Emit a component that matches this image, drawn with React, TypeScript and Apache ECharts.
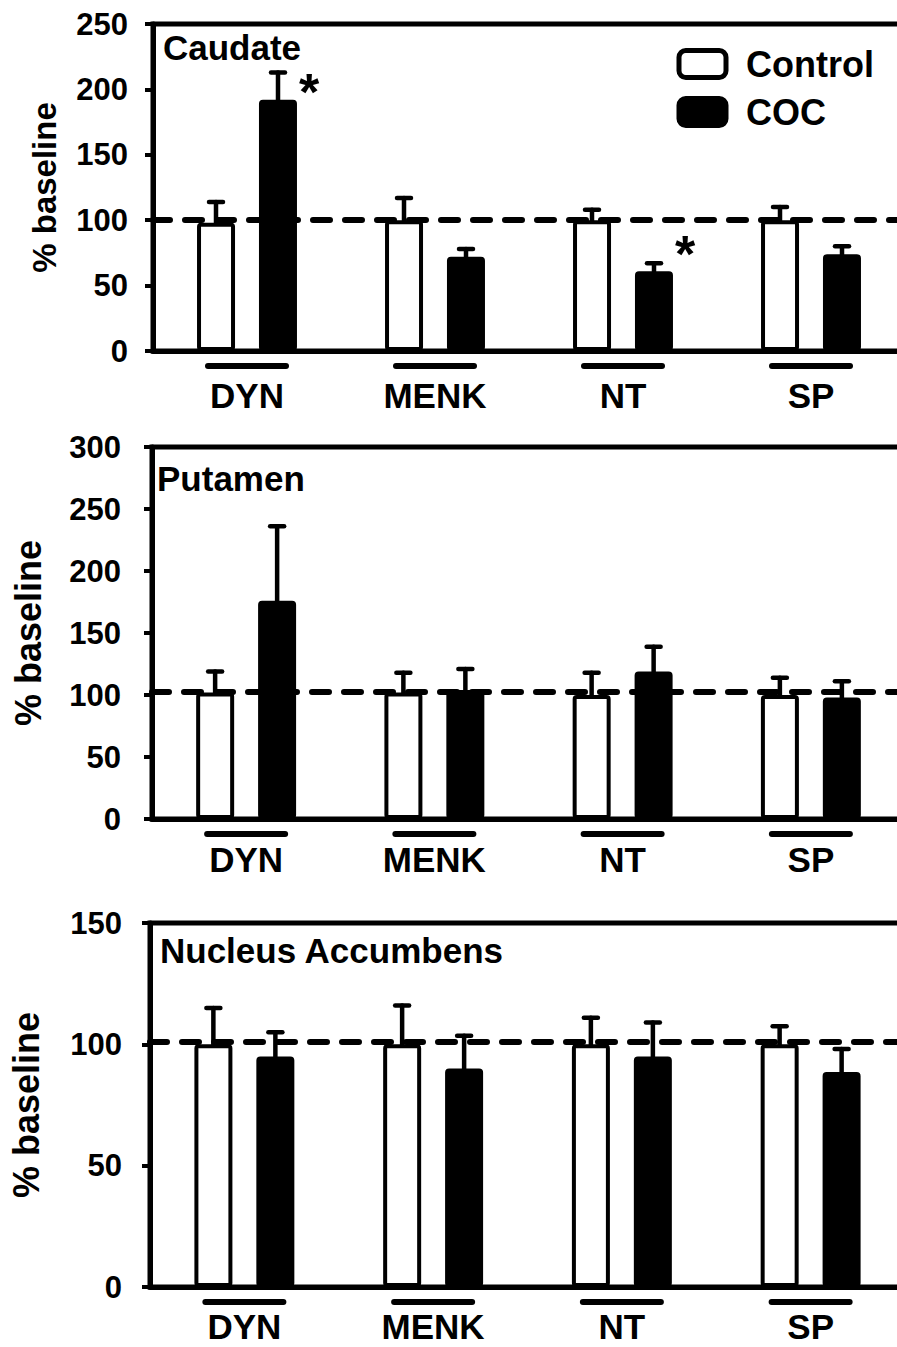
import React, { useEffect, useRef } from 'react';
import * as echarts from 'echarts';

const FONT = '"Liberation Sans", Arial, Helvetica, sans-serif';

// ---------- data ----------
const categories = ['DYN', 'MENK', 'NT', 'SP'];
const seriesNames = ['Control', 'COC'];

// Caudate
const caudateTicks = [0, 50, 100, 150, 200, 250];
const caudateBaseline = 100;
const caudateControl = [98, 100, 100, 100];
const caudateControlErr = [16, 17, 8, 10];
const caudateCOC = [192, 72, 61, 74];
const caudateCOCErr = [21, 6, 6, 6];
const caudateStarY = [198, null, 74, null];

// Putamen
const putamenTicks = [0, 50, 100, 150, 200, 250, 300];
const putamenBaseline = 103;
const putamenControl = [102, 102, 100, 100];
const putamenControlErr = [17, 16, 18, 14];
const putamenCOC = [176, 104, 119, 98];
const putamenCOCErr = [60, 17, 20, 13];
const putamenStarY = [null, null, null, null];

// Nucleus Accumbens
const accumbensTicks = [0, 50, 100, 150];
const accumbensBaseline = 101;
const accumbensControl = [100, 100, 100, 100];
const accumbensControlErr = [15, 16, 11, 7.5];
const accumbensCOC = [95, 90, 95, 88.6];
const accumbensCOCErr = [10, 13.5, 14, 9.5];
const accumbensStarY = [null, null, null, null];

const panels = [
  { title: 'Caudate', ticks: caudateTicks, baseline: caudateBaseline, control: caudateControl, controlErr: caudateControlErr, coc: caudateCOC, cocErr: caudateCOCErr, stars: caudateStarY },
  { title: 'Putamen', ticks: putamenTicks, baseline: putamenBaseline, control: putamenControl, controlErr: putamenControlErr, coc: putamenCOC, cocErr: putamenCOCErr, stars: putamenStarY },
  { title: 'Nucleus Accumbens', ticks: accumbensTicks, baseline: accumbensBaseline, control: accumbensControl, controlErr: accumbensControlErr, coc: accumbensCOC, cocErr: accumbensCOCErr, stars: accumbensStarY },
];

// ---------- layout / style ----------
const layout = [
  { left: 153, top: 24, height: 327, width: 752, titleLeft: 163, titleTop: 30, nameGap: 92, nameSize: 33, labelMargin: 27, tickMargin: 25 },
  { left: 152, top: 447, height: 372, width: 753, titleLeft: 157, titleTop: 461, nameGap: 106, nameSize: 36, labelMargin: 23, tickMargin: 31 },
  { left: 150, top: 923, height: 364, width: 755, titleLeft: 160, titleTop: 933, nameGap: 106, nameSize: 36, labelMargin: 22, tickMargin: 28 },
];

const BAR_W = 38;
const BAR_GAP = '63%';
const BAR_OFFSET = 31;
const LINE_W = 5;

export default function App() {
  const ref = useRef<HTMLDivElement>(null);

  useEffect(() => {
    if (!ref.current) return;
    const chart = echarts.init(ref.current, null, { renderer: 'svg' });

    const grid: any[] = [];
    const xAxis: any[] = [];
    const yAxis: any[] = [];
    const series: any[] = [];
    const title: any[] = [];

    panels.forEach((p, k) => {
      const L = layout[k];
      grid.push({
        left: L.left, top: L.top, width: L.width, height: L.height,
        show: true, borderColor: '#000', borderWidth: LINE_W, backgroundColor: 'transparent',
      });
      title.push({
        text: p.title, left: L.titleLeft, top: L.titleTop, padding: 0,
        textStyle: { fontFamily: FONT, fontWeight: 'bold', fontSize: 35, color: '#000', lineHeight: 35 },
      });
      xAxis.push({
        type: 'category', gridIndex: k, data: categories,
        axisLine: { lineStyle: { color: '#000', width: LINE_W } },
        axisTick: { show: false },
        axisLabel: { color: '#000', fontFamily: FONT, fontWeight: 'bold', fontSize: 35, lineHeight: 35, margin: L.labelMargin },
        splitLine: { show: false },
      });
      const ticks = p.ticks;
      yAxis.push({
        type: 'value', gridIndex: k,
        min: ticks[0], max: ticks[ticks.length - 1], interval: ticks[1] - ticks[0],
        name: '% baseline', nameLocation: 'middle', nameGap: L.nameGap,
        nameTextStyle: { color: '#000', fontFamily: FONT, fontWeight: 'bold', fontSize: L.nameSize },
        axisLine: { show: true, lineStyle: { color: '#000', width: LINE_W } },
        axisTick: { show: true, length: 8, lineStyle: { color: '#000', width: 4 } },
        axisLabel: { color: '#000', fontFamily: FONT, fontWeight: 'bold', fontSize: 31, margin: L.tickMargin },
        splitLine: { show: false },
      });

      series.push({
        name: seriesNames[0], type: 'bar', xAxisIndex: k, yAxisIndex: k,
        data: p.control, barWidth: BAR_W, barGap: BAR_GAP,
        itemStyle: { color: '#fff', borderColor: '#000', borderWidth: 4, borderRadius: 2 },
      });
      series.push({
        name: seriesNames[1], type: 'bar', xAxisIndex: k, yAxisIndex: k,
        data: p.coc, barWidth: BAR_W, barGap: BAR_GAP,
        itemStyle: { color: '#000', borderColor: '#000', borderWidth: 4, borderRadius: 2 },
        markLine: {
          silent: true, symbol: 'none', label: { show: false },
          lineStyle: { color: '#000', width: 6, type: [17, 15], cap: 'round' },
          data: [{ yAxis: p.baseline }],
        },
      });

      // error bars (upper only)
      const errData: any[] = [];
      p.control.forEach((v, i) => errData.push([i, v, p.controlErr[i], -1]));
      p.coc.forEach((v, i) => errData.push([i, v, p.cocErr[i], 1]));
      series.push({
        type: 'custom', xAxisIndex: k, yAxisIndex: k, z: 6, silent: true,
        encode: { x: 0, y: 1 },
        data: errData,
        renderItem: (params: any, api: any) => {
          const i = api.value(0);
          const v = api.value(1);
          const e = api.value(2);
          const side = api.value(3);
          const base = api.coord([i, v]);
          const top = api.coord([i, v + e]);
          const x = base[0] + side * BAR_OFFSET;
          const st = { stroke: '#000', lineWidth: 4.5, lineCap: 'round' };
          return {
            type: 'group',
            children: [
              { type: 'line', shape: { x1: x, y1: base[1], x2: x, y2: top[1] }, style: st },
              { type: 'line', shape: { x1: x - 7, y1: top[1], x2: x + 7, y2: top[1] }, style: st },
            ],
          };
        },
      });

      // significance stars (to the right of the COC bar)
      const starData = p.stars
        .map((s, i) => (s == null ? null : [i, s]))
        .filter((d) => d != null);
      if (starData.length) {
        series.push({
          type: 'custom', xAxisIndex: k, yAxisIndex: k, z: 7, silent: true,
          encode: { x: 0, y: 1 },
          data: starData,
          renderItem: (params: any, api: any) => {
            const c = api.coord([api.value(0), api.value(1)]);
            return {
              type: 'text', x: c[0] + BAR_OFFSET * 2, y: c[1],
              style: { text: '*', fontFamily: FONT, fontWeight: 'bold', fontSize: 52, fill: '#000', align: 'center', verticalAlign: 'middle' },
            };
          },
        });
      }

      // group underlines below the axis
      series.push({
        type: 'custom', xAxisIndex: k, yAxisIndex: k, z: 7, silent: true, clip: false,
        encode: { x: 0, y: 1 },
        data: categories.map((_, i) => [i, 0]),
        renderItem: (params: any, api: any) => {
          const c = api.coord([api.value(0), 0]);
          return {
            type: 'line',
            shape: { x1: c[0] - 39, y1: c[1] + 15, x2: c[0] + 39, y2: c[1] + 15 },
            style: { stroke: '#000', lineWidth: 6, lineCap: 'round' },
          };
        },
      });
    });

    chart.setOption({
      animation: false,
      backgroundColor: '#fff',
      title,
      legend: {
        data: seriesNames, orient: 'vertical', left: 676.5, top: 46, padding: 0,
        itemWidth: 47, itemHeight: 27, itemGap: 12, icon: 'roundRect',
        itemStyle: { borderWidth: 5, borderColor: '#000' },
        textStyle: { fontFamily: FONT, fontWeight: 'bold', fontSize: 36, color: '#000', padding: [0, 0, 0, 15] },
        selectedMode: false,
      },
      grid, xAxis, yAxis, series,
    });

    return () => chart.dispose();
  }, []);

  return (
    <div
      ref={ref}
      style={{ position: 'fixed', left: 0, top: 0, width: 912, height: 1347, background: '#fff' }}
    />
  );
}
